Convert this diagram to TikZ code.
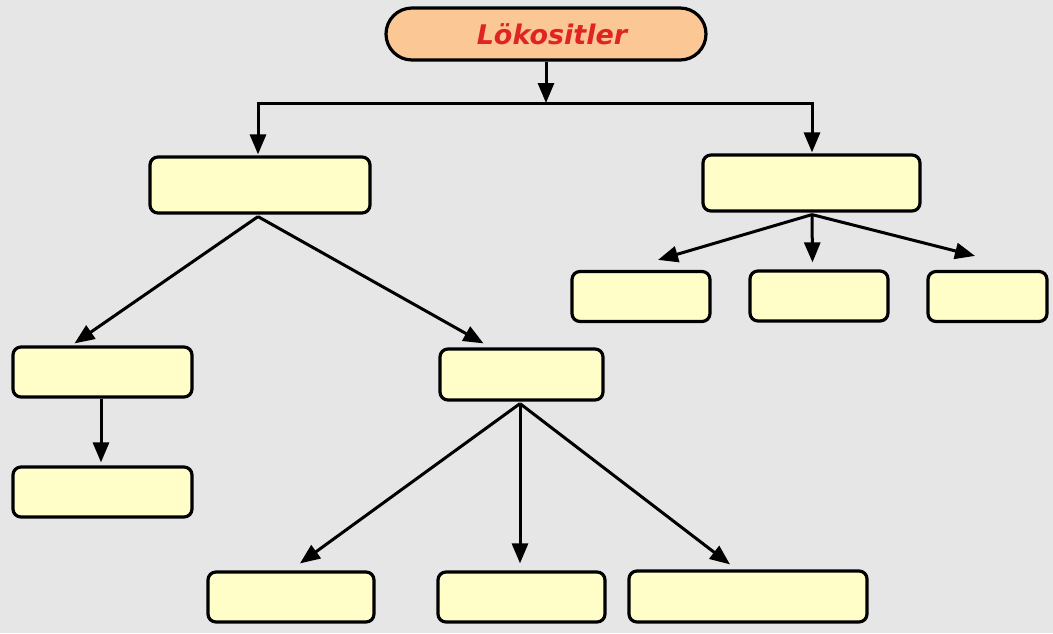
\documentclass[tikz,border=0pt]{standalone}
\usepackage{fontspec}
\newfontfamily\titlefont{DejaVu Sans}
\usetikzlibrary{arrows.meta,calc}
\definecolor{bg}{HTML}{E6E6E6}
\definecolor{boxfill}{HTML}{FFFDC8}
\definecolor{topfill}{HTML}{FBC794}
\definecolor{titlered}{HTML}{E02424}
\tikzset{
  box/.style={draw=black, line width=3.2pt, fill=boxfill, rounded corners=8pt, inner sep=0pt},
  topnode/.style={draw=black, line width=3.2pt, fill=topfill, rounded corners=26pt, inner sep=0pt,
    minimum width=320pt, minimum height=52pt, font=\titlefont\bfseries\itshape\fontsize{27}{31}\selectfont, text=titlered},
  conn/.style={line width=3pt, -{Triangle[length=20pt,width=16pt]}},
  plain/.style={line width=3pt}
}
\begin{document}
\begin{tikzpicture}[x=1pt,y=-1pt]
\fill[bg] (0,0) rectangle (1053,633);
\useasboundingbox (0,0) rectangle (1053,633);
\node[topnode] (top) at (546,34) {\hspace*{12pt}Lökositler};
\node[box, minimum width=220pt, minimum height=56pt] (L1) at (260,185) {};
\node[box, minimum width=217pt, minimum height=56pt] (R1) at (811.5,183) {};
\node[box, minimum width=138pt, minimum height=50pt] (R2a) at (641,296.5) {};
\node[box, minimum width=138pt, minimum height=50pt] (R2b) at (819,296) {};
\node[box, minimum width=119pt, minimum height=50pt] (R2c) at (987.5,296.5) {};
\node[box, minimum width=179pt, minimum height=50pt] (L2a) at (102.5,372) {};
\node[box, minimum width=163pt, minimum height=51pt] (L2b) at (521.5,374.5) {};
\node[box, minimum width=179pt, minimum height=50pt] (L3a) at (102.5,492) {};
\node[box, minimum width=166pt, minimum height=50pt] (B1) at (291,597) {};
\node[box, minimum width=167pt, minimum height=50pt] (B2) at (521.5,597) {};
\node[box, minimum width=238pt, minimum height=51pt] (B3) at (748,596.5) {};
\coordinate (hub) at (546,103);
% top distribution
\draw[conn] (top.south) -- (hub);
\draw[plain] ($(hub -| L1.north)+(-3.5,0)$) -- ($(hub -| R1.north)+(2,0)$);
\draw[conn] ($(hub -| L1.north)+(-2,0)$) -- ($(L1.north)+(-2,-1)$);
\draw[conn] ($(hub -| R1.north)+(0.5,0)$) -- ($(R1.north)+(0.5,-1)$);
% right branch
\draw[conn] ($(R1.south)+(0.5,2)$) -- ($(R2a.north)+(17,-10)$);
\draw[conn] ($(R1.south)+(0.5,2)$) -- ($(R2b.north)+(-6.5,-7)$);
\draw[conn] ($(R1.south)+(0.5,2)$) -- ($(R2c.north)+(-12.5,-14)$);
% left branch
\draw[conn] ($(L1.south)+(-2,2)$) -- ($(L2a.north)+(-28,-2)$);
\draw[conn] ($(L1.south)+(-2,2)$) -- ($(L2b.north)+(-38,-4)$);
\draw[conn] (L2a.south -| 101,0) -- ($(L3a.north)+(-1.5,-3)$);
\draw[conn] ($(L2b.south)+(-1.5,2)$) -- ($(B1.north)+(9,-7)$);
\draw[conn] ($(L2b.south)+(-1.5,2)$) -- ($(B2.north)+(-1.5,-7)$);
\draw[conn] ($(L2b.south)+(-1.5,2)$) -- ($(B3.north)+(-18,-5)$);
\end{tikzpicture}
\end{document}
